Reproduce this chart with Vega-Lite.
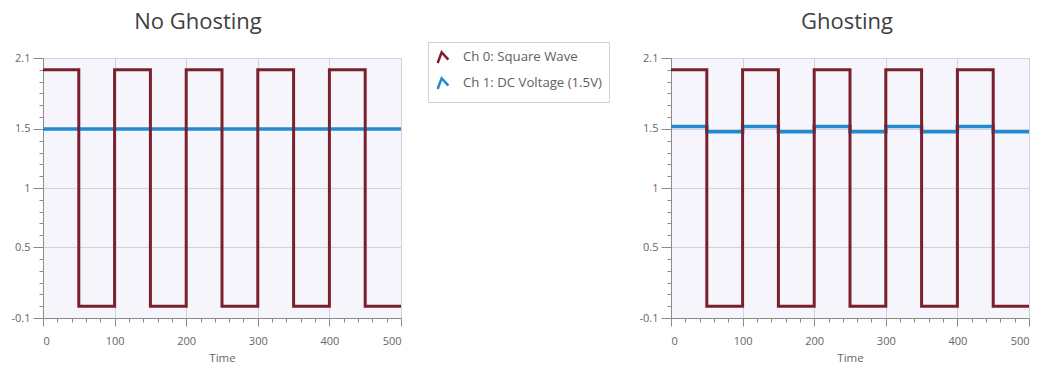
{
  "$schema": "https://vega.github.io/schema/vega-lite/v6.json",
  "background": "white",
  "padding": {"left": 10, "top": 10, "right": 5, "bottom": 0},
  "spacing": 28,
  "datasets": {
    "d": [
      {"panel": "No Ghosting", "series": "Ch 0: Square Wave", "t": 0, "v": 2},
      {"panel": "No Ghosting", "series": "Ch 0: Square Wave", "t": 50, "v": 0},
      {"panel": "No Ghosting", "series": "Ch 0: Square Wave", "t": 100, "v": 2},
      {"panel": "No Ghosting", "series": "Ch 0: Square Wave", "t": 150, "v": 0},
      {"panel": "No Ghosting", "series": "Ch 0: Square Wave", "t": 200, "v": 2},
      {"panel": "No Ghosting", "series": "Ch 0: Square Wave", "t": 250, "v": 0},
      {"panel": "No Ghosting", "series": "Ch 0: Square Wave", "t": 300, "v": 2},
      {"panel": "No Ghosting", "series": "Ch 0: Square Wave", "t": 350, "v": 0},
      {"panel": "No Ghosting", "series": "Ch 0: Square Wave", "t": 400, "v": 2},
      {"panel": "No Ghosting", "series": "Ch 0: Square Wave", "t": 450, "v": 0},
      {"panel": "No Ghosting", "series": "Ch 0: Square Wave", "t": 500, "v": 0},
      {"panel": "No Ghosting", "series": "Ch 1: DC Voltage (1.5V)", "t": 0, "v": 1.5},
      {"panel": "No Ghosting", "series": "Ch 1: DC Voltage (1.5V)", "t": 500, "v": 1.5},
      {"panel": "Ghosting", "series": "Ch 0: Square Wave", "t": 0, "v": 2},
      {"panel": "Ghosting", "series": "Ch 0: Square Wave", "t": 50, "v": 0},
      {"panel": "Ghosting", "series": "Ch 0: Square Wave", "t": 100, "v": 2},
      {"panel": "Ghosting", "series": "Ch 0: Square Wave", "t": 150, "v": 0},
      {"panel": "Ghosting", "series": "Ch 0: Square Wave", "t": 200, "v": 2},
      {"panel": "Ghosting", "series": "Ch 0: Square Wave", "t": 250, "v": 0},
      {"panel": "Ghosting", "series": "Ch 0: Square Wave", "t": 300, "v": 2},
      {"panel": "Ghosting", "series": "Ch 0: Square Wave", "t": 350, "v": 0},
      {"panel": "Ghosting", "series": "Ch 0: Square Wave", "t": 400, "v": 2},
      {"panel": "Ghosting", "series": "Ch 0: Square Wave", "t": 450, "v": 0},
      {"panel": "Ghosting", "series": "Ch 0: Square Wave", "t": 500, "v": 0},
      {"panel": "Ghosting", "series": "Ch 1: DC Voltage (1.5V)", "t": 0, "v": 1.52},
      {"panel": "Ghosting", "series": "Ch 1: DC Voltage (1.5V)", "t": 50, "v": 1.475},
      {"panel": "Ghosting", "series": "Ch 1: DC Voltage (1.5V)", "t": 100, "v": 1.52},
      {"panel": "Ghosting", "series": "Ch 1: DC Voltage (1.5V)", "t": 150, "v": 1.475},
      {"panel": "Ghosting", "series": "Ch 1: DC Voltage (1.5V)", "t": 200, "v": 1.52},
      {"panel": "Ghosting", "series": "Ch 1: DC Voltage (1.5V)", "t": 250, "v": 1.475},
      {"panel": "Ghosting", "series": "Ch 1: DC Voltage (1.5V)", "t": 300, "v": 1.52},
      {"panel": "Ghosting", "series": "Ch 1: DC Voltage (1.5V)", "t": 350, "v": 1.475},
      {"panel": "Ghosting", "series": "Ch 1: DC Voltage (1.5V)", "t": 400, "v": 1.52},
      {"panel": "Ghosting", "series": "Ch 1: DC Voltage (1.5V)", "t": 450, "v": 1.475},
      {"panel": "Ghosting", "series": "Ch 1: DC Voltage (1.5V)", "t": 500, "v": 1.475}
    ]
  },
  "config": {
    "view": {"fill": "#f6f5fb", "stroke": "#b5b5b5", "strokeWidth": 1},
    "font": "Open Sans",
    "title": {"fontSize": 22, "fontWeight": "normal", "color": "#404040", "font": "Open Sans"},
    "axis": {
      "labelFont": "Open Sans",
      "labelFontSize": 11,
      "labelColor": "#666666",
      "titleFont": "Open Sans",
      "titleFontSize": 11.5,
      "titleFontWeight": "normal",
      "titleColor": "#666666",
      "domainColor": "#8a8a8a",
      "tickColor": "#8a8a8a",
      "gridColor": "#d2d2d8"
    }
  },
  "resolve": {"legend": {"color": "independent"}},
  "hconcat": [
    {
      "width": 358,
      "height": 260,
      "title": {"text": "No Ghosting", "dx": -24, "offset": 8},
      "data": {"name": "d"},
      "transform": [{"filter": "datum.panel === 'No Ghosting'"}],
      "encoding": {
        "x": {
          "field": "t", "type": "quantitative", "title": "Time",
          "scale": {"domain": [0, 500], "nice": false},
          "axis": {
            "values": [0, 20, 40, 60, 80, 100, 120, 140, 160, 180, 200, 220, 240, 260, 280, 300, 320, 340, 360, 380, 400, 420, 440, 460, 480, 500],
            "labelExpr": "datum.value % 100 === 0 ? datum.label : ''",
            "tickSize": {"condition": {"test": "datum.value % 100 === 0", "value": 8}, "value": 4},
            "gridOpacity": {"condition": {"test": "datum.value % 100 === 0", "value": 1}, "value": 0},
            "labelPadding": 9,
            "titlePadding": 6
          }
        },
        "y": {
          "field": "v", "type": "quantitative", "title": null,
          "scale": {"domain": [-0.1, 2.1], "nice": false, "zero": false},
          "axis": {
            "values": [-0.1, 0, 0.1, 0.2, 0.3, 0.4, 0.5, 0.6, 0.7, 0.8, 0.9, 1, 1.1, 1.2, 1.3, 1.4, 1.5, 1.6, 1.7, 1.8, 1.9, 2, 2.1],
            "labelExpr": "indexof([-0.1, 0.5, 1, 1.5, 2.1], datum.value) >= 0 ? '' + datum.value : ''",
            "tickSize": {"condition": {"test": "indexof([-0.1, 0.5, 1, 1.5, 2.1], datum.value) >= 0", "value": 10}, "value": 4},
            "gridOpacity": {"condition": {"test": "indexof([-0.1, 0.5, 1, 1.5, 2.1], datum.value) >= 0", "value": 1}, "value": 0},
            "labelPadding": 3
          }
        },
        "color": {
          "field": "series", "type": "nominal",
          "scale": {"domain": ["Ch 0: Square Wave", "Ch 1: DC Voltage (1.5V)"], "range": ["#7a1f2d", "#1f8bd3"]},
          "legend": {
            "orient": "none", "legendX": 385, "legendY": -16, "title": null,
            "strokeColor": "#d0d0d0", "fillColor": "white", "padding": 7,
            "labelFontSize": 13.2, "labelColor": "#606060", "labelFont": "Open Sans",
            "symbolType": "M-0.8,0.9L-0.2,-0.7L0.8,0.4", "symbolSize": 180, "symbolStrokeWidth": 2.5,
            "symbolFillColor": "transparent", "rowPadding": 4, "labelOffset": 12
          }
        }
      },
      "layer": [
        {"transform": [{"filter": "datum.series !== 'Ch 0: Square Wave'"}], "mark": {"type": "line", "interpolate": "step-after", "strokeWidth": 3.5}},
        {"transform": [{"filter": "datum.series === 'Ch 0: Square Wave'"}], "mark": {"type": "line", "interpolate": "step-after", "strokeWidth": 3}}
      ]
    },
    {
      "width": 358,
      "height": 260,
      "title": {"text": "Ghosting", "dx": -3, "offset": 18},
      "data": {"name": "d"},
      "transform": [{"filter": "datum.panel === 'Ghosting'"}],
      "encoding": {
        "x": {
          "field": "t", "type": "quantitative", "title": "Time",
          "scale": {"domain": [0, 500], "nice": false},
          "axis": {
            "values": [0, 20, 40, 60, 80, 100, 120, 140, 160, 180, 200, 220, 240, 260, 280, 300, 320, 340, 360, 380, 400, 420, 440, 460, 480, 500],
            "labelExpr": "datum.value % 100 === 0 ? datum.label : ''",
            "tickSize": {"condition": {"test": "datum.value % 100 === 0", "value": 8}, "value": 4},
            "gridOpacity": {"condition": {"test": "datum.value % 100 === 0", "value": 1}, "value": 0},
            "labelPadding": 9,
            "titlePadding": 6
          }
        },
        "y": {
          "field": "v", "type": "quantitative", "title": null,
          "scale": {"domain": [-0.1, 2.1], "nice": false, "zero": false},
          "axis": {
            "values": [-0.1, 0, 0.1, 0.2, 0.3, 0.4, 0.5, 0.6, 0.7, 0.8, 0.9, 1, 1.1, 1.2, 1.3, 1.4, 1.5, 1.6, 1.7, 1.8, 1.9, 2, 2.1],
            "labelExpr": "indexof([-0.1, 0.5, 1, 1.5, 2.1], datum.value) >= 0 ? '' + datum.value : ''",
            "tickSize": {"condition": {"test": "indexof([-0.1, 0.5, 1, 1.5, 2.1], datum.value) >= 0", "value": 10}, "value": 4},
            "gridOpacity": {"condition": {"test": "indexof([-0.1, 0.5, 1, 1.5, 2.1], datum.value) >= 0", "value": 1}, "value": 0},
            "labelPadding": 3
          }
        },
        "color": {
          "field": "series", "type": "nominal",
          "scale": {"domain": ["Ch 0: Square Wave", "Ch 1: DC Voltage (1.5V)"], "range": ["#7a1f2d", "#1f8bd3"]},
          "legend": null
        }
      },
      "layer": [
        {"transform": [{"filter": "datum.series !== 'Ch 0: Square Wave'"}], "mark": {"type": "line", "interpolate": "step-after", "strokeWidth": 3.5}},
        {"transform": [{"filter": "datum.series === 'Ch 0: Square Wave'"}], "mark": {"type": "line", "interpolate": "step-after", "strokeWidth": 3}}
      ]
    }
  ]
}
